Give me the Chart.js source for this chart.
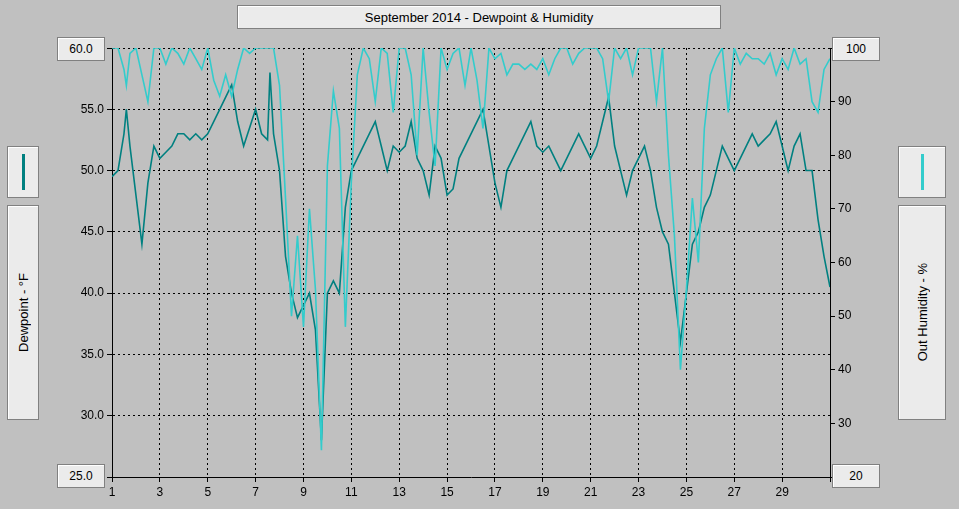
<!DOCTYPE html>
<html><head><meta charset="utf-8">
<script src="https://cdn.jsdelivr.net/npm/chart.js@4/dist/chart.umd.min.js"></script>
<style>
body{margin:0;background:#c0c0c0;font-family:"Liberation Sans",Arial,sans-serif;}
#wrap{position:relative;width:959px;height:509px;}
canvas{position:absolute;left:0;top:0;}
.box{position:absolute;background:#ebebeb;border:1px solid #808080;box-shadow:inset 1px 1px #fff;font-size:12px;color:#000;display:flex;align-items:center;justify-content:center;}
.rot{writing-mode:vertical-rl;transform:rotate(180deg);font-size:13px;}
</style></head><body>
<div id="wrap">
<canvas id="c" width="959" height="509"></canvas>
<div class="box" style="left:237px;top:5px;width:482px;height:22px;font-size:13px;">September 2014 - Dewpoint &amp; Humidity</div>
<div class="box" style="left:57px;top:37px;width:46px;height:22px;">60.0</div>
<div class="box" style="left:57px;top:464px;width:46px;height:22px;">25.0</div>
<div class="box" style="left:832px;top:37px;width:46px;height:22px;">100</div>
<div class="box" style="left:832px;top:464px;width:46px;height:22px;">20</div>
<div class="box" style="left:7px;top:146px;width:30px;height:50px;"><div style="width:3px;height:36px;background:#008080"></div></div>
<div class="box" style="left:7px;top:205px;width:30px;height:213px;"><span class="rot">Dewpoint - °F</span></div>
<div class="box" style="left:898px;top:146px;width:46px;height:50px;"><div style="width:3px;height:36px;background:#33cccc"></div></div>
<div class="box" style="left:898px;top:205px;width:46px;height:213px;"><span class="rot" style="color:#000">Out Humidity - %</span></div>
</div>
<script>
const times=[1,1.25,1.5,1.6,1.75,2,2.25,2.5,2.75,3,3.25,3.5,3.75,4,4.25,4.5,4.75,5,5.25,5.5,5.75,6,6.25,6.5,6.75,7,7.25,7.5,7.6,7.75,8,8.25,8.5,8.75,9,9.25,9.5,9.75,10,10.25,10.5,10.75,11,11.25,11.5,11.75,12,12.25,12.5,12.75,13,13.25,13.5,13.75,14,14.25,14.5,14.75,15,15.25,15.5,15.75,16,16.25,16.5,16.75,17,17.25,17.5,17.75,18,18.25,18.5,18.75,19,19.25,19.5,19.75,20,20.25,20.5,20.75,21,21.25,21.5,21.75,22,22.25,22.5,22.75,23,23.25,23.5,23.75,24,24.25,24.5,24.75,25,25.25,25.5,25.75,26,26.25,26.5,26.75,27,27.25,27.5,27.75,28,28.25,28.5,28.75,29,29.25,29.5,29.75,30,30.25,30.5,30.75,31];
const dewpoint=[49.5,50,53,55,52,48,44,49,52,51,51.5,52,53,53,52.5,53,52.5,53,54,55,56,57,54,52,53.5,55,53,52.5,58,53,50,43,40,38,39,40,37,28,40,41,40,47,50,51,52,53,54,52,50,52,51.5,52,54,51,50,48,52,51,48,48.5,51,52,53,54,55,52,49,47,50,51,52,53,54,52,51.5,52,51,50,51,52,53,52,51,52,54,56,52,50,48,50,51,52,50,47,45,44,40,36,40,44,45,47,48,50,52,51,50,51,52,53,52,52.5,53,54,52,50,52,53,50,50,46,43,40.5];
const humidity=[100,100,96,93,99,100,95,90,100,100,97,100,99,97,100,98,96,100,94,91,95,91,96,100,99,100,100,100,100,100,93,72,50,65,48,70,55,25,78,92,85,48,75,95,100,98,90,100,99,88,100,100,95,80,100,88,78,100,96,99,100,93,100,94,85,100,98,99,95,97,97,96,97,96,98,95,98,100,100,97,99,100,100,100,98,90,100,98,100,95,100,100,100,90,100,80,65,40,55,72,60,85,95,98,100,88,100,97,99,98,98,97,99,95,98,96,100,97,98,90,88,96,98];
const leftTicks=[25,30,35,40,45,50,55,60];
const xLabels=[1,3,5,7,9,11,13,15,17,19,21,23,25,27,29];
const font={family:'"Liberation Sans",Arial,sans-serif',size:12};
new Chart(document.getElementById('c'),{
 type:'line',
 data:{datasets:[
  {label:'Out Humidity',data:times.map((t,i)=>({x:t,y:humidity[i]})),yAxisID:'yr',borderColor:'#33cccc',borderWidth:1.6,pointRadius:0,tension:0},
  {label:'Dewpoint',data:times.map((t,i)=>({x:t,y:dewpoint[i]})),yAxisID:'y',borderColor:'#008080',borderWidth:1.6,pointRadius:0,tension:0}
 ]},
 options:{responsive:false,animation:false,
  layout:{padding:{left:52,right:79,top:48,bottom:7}},
  plugins:{legend:{display:false},tooltip:{enabled:false}},
  scales:{
   x:{type:'linear',min:1,max:31,afterBuildTicks:s=>{s.ticks=[];for(let d=1;d<=31;d+=2)s.ticks.push({value:d});},
     ticks:{color:'#000',font,maxRotation:0,callback:v=>xLabels.includes(v)?String(v):''},
     grid:{color:'#000',lineWidth:1,tickLength:5},border:{color:'#000',dash:[2,3]},afterFit:s=>{s.height=25;}},
   y:{position:'left',min:25,max:60,afterBuildTicks:s=>{s.ticks=leftTicks.map(v=>({value:v}));},
     ticks:{color:'#000',font,callback:v=>(v==25||v==60)?'':v.toFixed(1)},
     grid:{color:'#000',lineWidth:1,tickLength:5},border:{color:'#000',dash:[2,3]},afterFit:s=>{s.width=60;}},
   yr:{position:'right',min:20,max:100,ticks:{stepSize:10,color:'#000',font,callback:v=>(v==20||v==100)?'':String(v)},
     grid:{drawOnChartArea:false,color:'#000',tickLength:5},border:{color:'#000'},afterFit:s=>{s.width=50;}}
  }}
});
</script>
</body></html>
